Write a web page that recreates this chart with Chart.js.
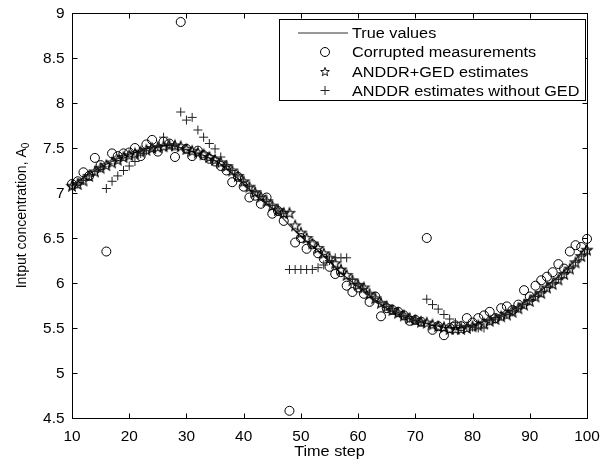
<!DOCTYPE html>
<html><head><meta charset="utf-8">
<script src="https://cdn.jsdelivr.net/npm/chart.js@4/dist/chart.umd.min.js"></script>
<style>html,body{margin:0;padding:0;background:#fff}#wrap{width:610px;height:462px}</style>
</head><body><div id="wrap"><canvas id="c" width="610" height="462"></canvas></div>
<script>
const timeSteps = [10,11,12,13,14,15,16,17,18,19,20,21,22,23,24,25,26,27,28,29,30,31,32,33,34,35,36,37,38,39,40,41,42,43,44,45,46,47,48,49,50,51,52,53,54,55,56,57,58,59,60,61,62,63,64,65,66,67,68,69,70,71,72,73,74,75,76,77,78,79,80,81,82,83,84,85,86,87,88,89,90,91,92,93,94,95,96,97,98,99,100];
const trueValues = [7.08,7.12,7.17,7.21,7.25,7.29,7.32,7.35,7.38,7.41,7.43,7.45,7.47,7.49,7.51,7.52,7.53,7.53,7.52,7.50,7.48,7.46,7.44,7.42,7.39,7.36,7.32,7.27,7.22,7.16,7.10,7.04,6.98,6.93,6.88,6.83,6.77,6.71,6.64,6.58,6.52,6.46,6.41,6.36,6.30,6.24,6.17,6.11,6.06,6.01,5.96,5.91,5.86,5.81,5.76,5.72,5.68,5.65,5.62,5.60,5.58,5.56,5.55,5.53,5.52,5.51,5.50,5.50,5.51,5.52,5.53,5.55,5.57,5.59,5.62,5.64,5.67,5.70,5.74,5.78,5.83,5.87,5.92,5.97,6.02,6.07,6.13,6.19,6.26,6.33,6.42];
const measured = [7.10,7.13,7.23,7.19,7.39,7.31,6.35,7.44,7.41,7.44,7.45,7.50,7.41,7.54,7.59,7.46,7.57,7.55,7.40,8.90,7.49,7.41,7.47,7.42,7.38,7.35,7.30,7.25,7.12,7.18,7.07,6.95,6.97,6.88,6.95,6.77,6.80,6.69,4.58,6.45,6.50,6.38,6.43,6.33,6.27,6.18,6.10,6.12,5.97,5.90,5.95,5.88,5.79,5.85,5.63,5.72,5.70,5.68,5.64,5.58,5.59,5.57,6.50,5.48,5.52,5.42,5.50,5.53,5.52,5.61,5.56,5.61,5.64,5.68,5.61,5.72,5.74,5.70,5.76,5.92,5.85,5.97,6.03,6.07,6.12,6.21,6.16,6.35,6.42,6.40,6.49];
const gedEstimates = [7.08,7.10,7.14,7.19,7.24,7.28,7.31,7.34,7.37,7.40,7.42,7.44,7.46,7.48,7.50,7.51,7.52,7.53,7.53,7.52,7.49,7.47,7.45,7.43,7.40,7.37,7.34,7.30,7.25,7.19,7.13,7.07,7.01,6.96,6.91,6.86,6.81,6.78,6.78,6.64,6.56,6.50,6.44,6.39,6.33,6.28,6.22,6.15,6.09,6.03,5.98,5.95,5.88,5.83,5.78,5.74,5.70,5.67,5.64,5.61,5.59,5.57,5.56,5.54,5.52,5.51,5.49,5.49,5.49,5.50,5.52,5.53,5.55,5.58,5.60,5.63,5.65,5.68,5.72,5.76,5.80,5.85,5.89,5.95,5.99,6.04,6.10,6.16,6.23,6.30,6.37];
const noGedEstimates = [7.08,7.10,7.14,7.19,7.24,7.28,7.05,7.13,7.19,7.25,7.30,7.35,7.44,7.47,7.50,7.52,7.62,7.54,7.52,7.90,7.81,7.84,7.70,7.62,7.55,7.49,7.40,7.31,7.25,7.19,7.13,7.07,7.01,6.96,6.91,6.86,6.81,6.77,6.15,6.15,6.15,6.15,6.15,6.17,6.20,6.25,6.28,6.28,6.28,6.04,5.98,5.94,5.88,5.83,5.78,5.74,5.70,5.67,5.64,5.61,5.59,5.57,5.82,5.76,5.71,5.65,5.60,5.56,5.53,5.52,5.51,5.50,5.50,5.58,5.60,5.63,5.65,5.68,5.72,5.76,5.80,5.85,5.89,5.95,5.99,6.04,6.10,6.16,6.23,6.30,6.37];
const xTicks = [10,20,30,40,50,60,70,80,90,100];
const yTicks = [4.5,5,5.5,6,6.5,7,7.5,8,8.5,9];
const legendLabels = ['True values','Corrupted measurements','ANDDR+GED estimates','ANDDR estimates without GED'];
const xTitle = 'Time step';
const yTitle = 'Intput concentration, A';
const yTitleSub = '0';

const FONT = '"Liberation Sans", Arial, Helvetica, sans-serif';
const SX = 1.16;
const SXT = 1.1;

function drawPentagram(ctx, cx, cy, R, r) {
  ctx.beginPath();
  for (let i = 0; i < 10; i++) {
    const rad = i % 2 === 0 ? R : r;
    const a = -Math.PI / 2 + i * Math.PI / 5;
    const px = cx + rad * Math.cos(a), py = cy + rad * Math.sin(a);
    if (i === 0) ctx.moveTo(px, py); else ctx.lineTo(px, py);
  }
  ctx.closePath();
  ctx.stroke();
}
const starImg = document.createElement('canvas');
starImg.width = 14; starImg.height = 14;
(function(){ const g = starImg.getContext('2d'); g.strokeStyle = '#000'; g.lineWidth = 1.1; drawPentagram(g, 7, 7.5, 5.5, 2.3); })();

function pts(ys){ return timeSteps.map((t,i)=>({x:t,y:ys[i]})); }

function sText(ctx, txt, x, y, align, sx) {
  ctx.save();
  ctx.translate(x, y);
  ctx.scale(sx || SX, 1);
  ctx.textAlign = align; ctx.textBaseline = 'alphabetic';
  ctx.fillText(txt, 0, 0);
  ctx.restore();
}

const framePlugin = {
  id: 'frame',
  afterDraw(chart) {
    const ctx = chart.ctx, a = chart.chartArea;
    const xs = chart.scales.x, ys = chart.scales.y;
    ctx.save();
    ctx.strokeStyle = '#000'; ctx.lineWidth = 1;
    const L = Math.round(a.left)+0.5, R = Math.round(a.right)+0.5, T = Math.round(a.top)+0.5, B = Math.round(a.bottom)+0.5;
    ctx.strokeRect(L, T, R-L, B-T);
    ctx.beginPath();
    xs.ticks.forEach(tk => {
      const px = Math.round(xs.getPixelForValue(tk.value))+0.5;
      ctx.moveTo(px, B); ctx.lineTo(px, B-5);
      ctx.moveTo(px, T); ctx.lineTo(px, T+5);
    });
    ys.ticks.forEach(tk => {
      const py = Math.round(ys.getPixelForValue(tk.value))+0.5;
      ctx.moveTo(L, py); ctx.lineTo(L+5, py);
      ctx.moveTo(R, py); ctx.lineTo(R-5, py);
    });
    ctx.stroke();
    ctx.fillStyle = '#000';
    ctx.font = '14px ' + FONT;
    xs.ticks.forEach(tk => {
      sText(ctx, String(tk.value), xs.getPixelForValue(tk.value), B + 22, 'center', SXT);
    });
    ys.ticks.forEach(tk => {
      sText(ctx, String(tk.value), L - 8, ys.getPixelForValue(tk.value) + 5, 'right', SXT);
    });
    ctx.font = '14px ' + FONT;
    sText(ctx, xTitle, (a.left + a.right)/2, 456, 'center');
    ctx.save();
    ctx.translate(25.5, (a.top + a.bottom)/2);
    ctx.rotate(-Math.PI/2);
    ctx.font = '14px ' + FONT;
    const w1 = ctx.measureText(yTitle).width;
    ctx.font = '10px ' + FONT;
    const w2 = ctx.measureText(yTitleSub).width;
    const start = -(w1 + w2)/2;
    ctx.textAlign = 'left'; ctx.textBaseline = 'alphabetic';
    ctx.font = '14px ' + FONT;
    ctx.fillText(yTitle, start, 0);
    ctx.font = '10px ' + FONT;
    ctx.fillText(yTitleSub, start + w1, 3);
    ctx.restore();
    const bx = 279.5, by = 19.5, bw = 306, bh = 81;
    ctx.fillStyle = '#fff';
    ctx.fillRect(bx, by, bw, bh);
    ctx.strokeStyle = '#000'; ctx.lineWidth = 1;
    ctx.strokeRect(bx, by, bw, bh);
    const rows = [33, 52, 71.5, 90.5];
    const symX = 325;
    ctx.strokeStyle = '#333'; ctx.lineWidth = 1.2;
    ctx.beginPath(); ctx.moveTo(298, rows[0]); ctx.lineTo(348, rows[0]); ctx.stroke();
    ctx.strokeStyle = '#000'; ctx.lineWidth = 1;
    ctx.beginPath(); ctx.arc(symX, rows[1], 4.5, 0, Math.PI*2); ctx.stroke();
    ctx.lineWidth = 0.9;
    drawPentagram(ctx, symX, rows[2] + 0.5, 4.6, 1.9);
    ctx.lineWidth = 1;
    ctx.strokeStyle = '#222';
    ctx.beginPath();
    ctx.moveTo(symX - 4.5, rows[3]); ctx.lineTo(symX + 4.5, rows[3]);
    ctx.moveTo(symX, rows[3] - 4.5); ctx.lineTo(symX, rows[3] + 4.5);
    ctx.stroke();
    ctx.fillStyle = '#000';
    ctx.font = '14px ' + FONT;
    legendLabels.forEach((lab, i) => sText(ctx, lab, 352, rows[i] + 5, 'left'));
    ctx.restore();
  }
};

new Chart(document.getElementById('c'), {
  type: 'scatter',
  data: {
    datasets: [
      { label: legendLabels[0], data: pts(trueValues), showLine: true, borderColor: '#333', borderWidth: 1.2, pointRadius: 0, fill: false, tension: 0, clip: false, order: 4 },
      { label: legendLabels[1], data: pts(measured), showLine: false, pointStyle: 'circle', pointRadius: 4.5, borderColor: '#000', backgroundColor: 'rgba(0,0,0,0)', pointBorderWidth: 1, borderWidth: 1, clip: false, order: 3 },
      { label: legendLabels[2], data: pts(gedEstimates), showLine: false, pointStyle: starImg, pointRadius: 5, borderColor: '#000', clip: false, order: 2 },
      { label: legendLabels[3], data: pts(noGedEstimates), showLine: false, pointStyle: 'cross', pointRadius: 4.5, borderColor: '#222', pointBorderWidth: 1, borderWidth: 1, clip: false, order: 1 }
    ]
  },
  options: {
    responsive: false,
    devicePixelRatio: 1,
    animation: false,
    events: [],
    layout: { padding: { top: 13, right: 23, left: 0, bottom: 0 } },
    plugins: { legend: { display: false }, tooltip: { enabled: false }, title: { display: false } },
    scales: {
      x: {
        type: 'linear', min: 10, max: 100,
        afterBuildTicks: s => { s.ticks = xTicks.map(v => ({ value: v })); },
        ticks: { display: false },
        grid: { display: false },
        border: { display: false },
        afterFit: s => { s.height = 44; }
      },
      y: {
        type: 'linear', min: 4.5, max: 9,
        afterBuildTicks: s => { s.ticks = yTicks.map(v => ({ value: v })); },
        ticks: { display: false },
        grid: { display: false },
        border: { display: false },
        afterFit: s => { s.width = 72; }
      }
    }
  },
  plugins: [framePlugin]
});
</script>
</body></html>
